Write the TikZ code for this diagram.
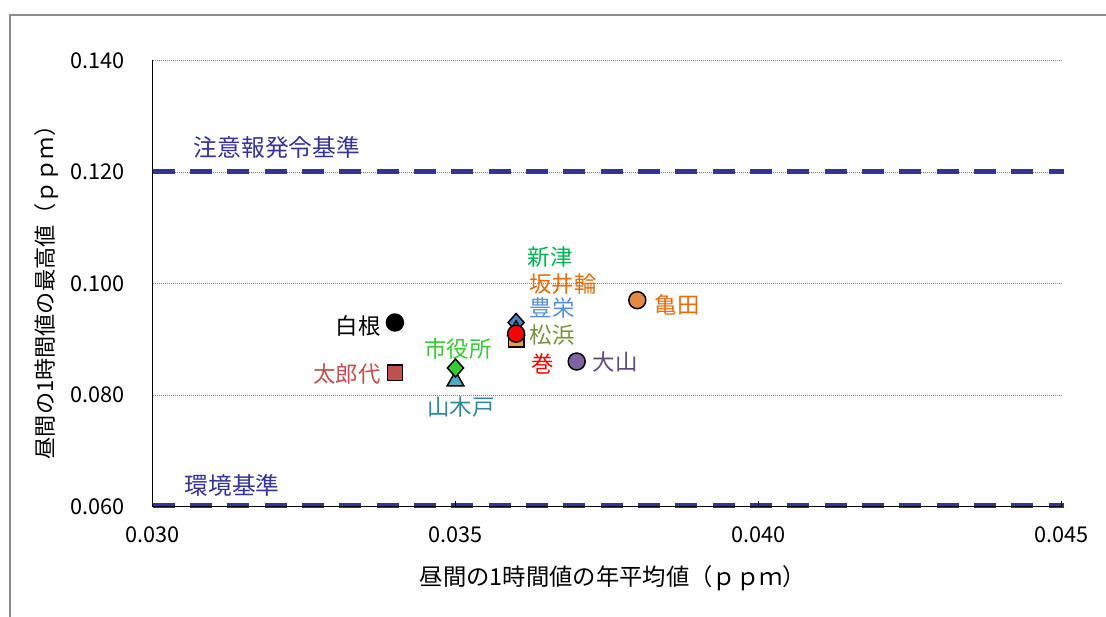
\documentclass[tikz,border=0pt]{standalone}
\usepackage{fontspec}
\setmainfont{Noto Sans CJK JP}
\usetikzlibrary{shapes.geometric}
\definecolor{navy}{HTML}{333399}
\definecolor{framegray}{HTML}{8C8C8C}
\definecolor{gridgray}{HTML}{7F7F7F}
\definecolor{cTaro}{HTML}{C0504D}
\definecolor{cShiyaku}{HTML}{33CC33}
\definecolor{cShiyakuT}{HTML}{33CC33}
\definecolor{cYamaki}{HTML}{4BACC6}
\definecolor{cYamakiT}{HTML}{31859C}
\definecolor{cToyo}{HTML}{4F81BD}
\definecolor{cToyoT}{HTML}{558ED5}
\definecolor{cNiitsu}{HTML}{00B050}
\definecolor{cSakai}{HTML}{F79646}
\definecolor{cSakaiT}{HTML}{E46C0A}
\definecolor{cMatsuT}{HTML}{77933C}
\definecolor{cMaki}{HTML}{FF0000}
\definecolor{cOyama}{HTML}{8064A2}
\definecolor{cOyamaT}{HTML}{604A7B}
\definecolor{cKame}{HTML}{E08A45}
\definecolor{cKameT}{HTML}{E46C0A}
\tikzset{
  lbl/.style={font=\fontsize{16.8}{19}\selectfont, inner sep=0pt},
  stdlbl/.style={font=\fontsize{17.8}{20}\selectfont, inner sep=0pt, text=navy},
  ticklbl/.style={font=\fontsize{16.3}{18}\selectfont, inner sep=0pt},
  ttl/.style={font=\fontsize{17.5}{20}\selectfont, inner sep=0pt},
  yttl/.style={font=\fontsize{16.6}{20}\selectfont, inner sep=0pt},
  mk/.style={draw=black, line width=1.1pt, inner sep=0pt},
  mcirc/.style={mk, circle, minimum size=12.75pt},
  msq/.style={mk, rectangle, minimum size=11.5pt},
  mdia/.style={mk, diamond, minimum width=12.5pt, minimum height=14pt},
  mtri/.style={mk, regular polygon, regular polygon sides=3, minimum size=14.5pt},
  gridline/.style={gridgray, line width=0.6pt, dash pattern=on 0.75pt off 0.75pt},
  stdline/.style={navy, line width=3.75pt, dash pattern=on 16.5pt off 11.5pt},
}
\begin{document}
\begin{tikzpicture}[x=0.75pt,y=-0.75pt]
\useasboundingbox[fill=white] (0,0) rectangle (1106,617);
% outer frame
\coordinate (fTL) at (10,15);
\coordinate (fTR) at (1106,15);
\coordinate (fBL) at (10,617);
\draw[framegray, line width=1.1pt] (fBL) -- (fTL) -- (fTR);
% plot corners
\coordinate (pBL) at (152.5,506.5);
\coordinate (pTL) at (152.5,60.5);
\coordinate (pBR) at (1061.5,506.5);
% grid
\foreach \n/\yy in {g140/60.5, g120/172, g100/283.5, g080/395}{
  \coordinate (\n a) at (152.5,\yy);
  \coordinate (\n b) at (1061.5,\yy);
  \draw[gridline] (\n a) -- (\n b);
}
% standard lines
\coordinate (s120a) at (152.5,171.5);
\coordinate (s120b) at (1064,171.5);
\coordinate (s060a) at (152.5,505);
\coordinate (s060b) at (1064,505);
\draw[stdline] (s120a) -- (s120b);
\draw[stdline] (s060a) -- (s060b);
% axes
\draw[black, line width=0.9pt] (pTL) -- (pBL) -- (pBR);
\foreach \n/\xx in {t35/455.5, t40/758.5, t45/1061.5}{
  \coordinate (\n a) at (\xx,506.5);
  \coordinate (\n b) at (\xx,501);
  \draw[black, line width=0.7pt] (\n a) -- (\n b);
}
% tick labels
\node[ticklbl, anchor=east] (y140) at (125,60.5) {0.140};
\node[ticklbl, anchor=east] (y120) at (125,172) {0.120};
\node[ticklbl, anchor=east] (y100) at (125,283.5) {0.100};
\node[ticklbl, anchor=east] (y080) at (125,395) {0.080};
\node[ticklbl, anchor=east] (y060) at (125,506.5) {0.060};
\node[ticklbl] (x030) at (152.5,535) {0.030};
\node[ticklbl] (x035) at (455.5,535) {0.035};
\node[ticklbl] (x040) at (758.5,535) {0.040};
\node[ticklbl] (x045) at (1061.5,535) {0.045};
% axis titles
\node[ttl] (xt) at (613,578) {昼間の1時間値の年平均値（ｐｐｍ）};
\node[yttl, rotate=90] (yt) at (47,287) {昼間の1時間値の最高値（ｐｐｍ）};
% standard labels
\node[stdlbl] (l120) at (277,147) {注意報発令基準};
\node[stdlbl] (l060) at (232,485) {環境基準};
% markers
\node[mcirc, fill=black] (mShirane) at (394.9,322.5) {};
\node[msq, fill=cTaro] (mTaro) at (394.9,372.7) {};
\node[mtri, fill=cYamaki] (mYamaki) at (455.5,381) {};
\node[mdia, fill=cShiyaku] (mShiyaku) at (455.5,368) {};
\node[mdia, fill=cToyo] (mToyo) at (516.1,322.5) {};
\node[mtri, fill=cNiitsu] (mNiitsu) at (516.1,330.5) {};
\node[msq, fill=cSakai] (mSakai) at (516.1,339.3) {};
\node[mcirc, fill=cMaki] (mMaki) at (516.1,333.7) {};
\node[mcirc, fill=cOyama] (mOyama) at (576.7,361.5) {};
\node[mcirc, fill=cKame] (mKame) at (637.3,300.2) {};
% data labels
\node[lbl, text=black] (tShirane) at (358,326) {白根};
\node[lbl, text=cTaro] (tTaro) at (347,374) {太郎代};
\node[lbl, text=cShiyakuT] (tShiyaku) at (458,349) {市役所};
\node[lbl, text=cYamakiT] (tYamaki) at (461,407) {山木戸};
\node[lbl, text=cNiitsu] (tNiitsu) at (550,257) {新津};
\node[lbl, text=cSakaiT] (tSakai) at (563,284) {坂井輪};
\node[lbl, text=cToyoT] (tToyo) at (552,308) {豊栄};
\node[lbl, text=cMatsuT] (tMatsu) at (552,335) {松浜};
\node[lbl, text=cMaki] (tMaki) at (543,364) {巻};
\node[lbl, text=cOyamaT] (tOyama) at (615,362) {大山};
\node[lbl, text=cKameT] (tKame) at (677,305) {亀田};
\end{tikzpicture}
\end{document}
